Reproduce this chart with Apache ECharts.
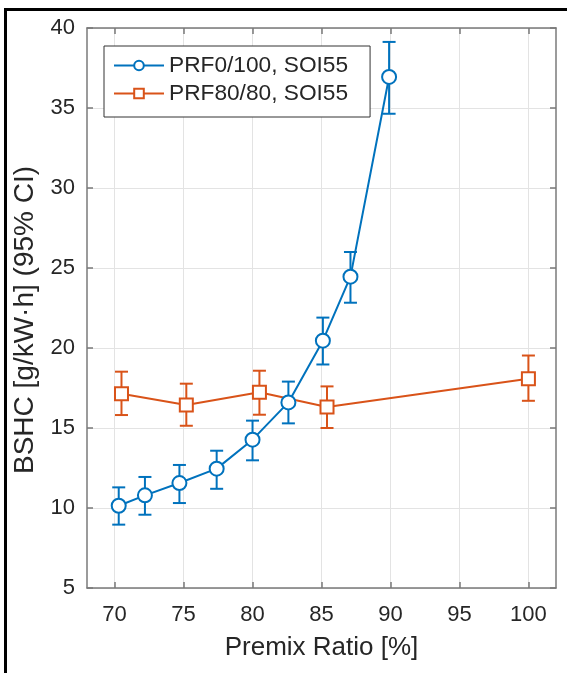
<!DOCTYPE html>
<html>
<head>
<meta charset="utf-8">
<script src="https://cdn.jsdelivr.net/npm/echarts@6/dist/echarts.min.js"></script>
<style>
html,body{margin:0;padding:0;background:#fff;}
#main{width:567px;height:673px;}
</style>
</head>
<body>
<div id="main"></div>
<script>
// ---- data ----
var xTicks = [70, 75, 80, 85, 90, 95, 100];
var yTicks = [5, 10, 15, 20, 25, 30, 35, 40];

var prf0X     = [70.3, 72.2, 74.7, 77.4, 80.0, 82.6, 85.1, 87.1, 89.9];
var prf0Y     = [10.14, 10.79, 11.56, 12.46, 14.27, 16.6, 20.46, 24.46, 36.94];
var prf0Upper = [11.29, 11.94, 12.69, 13.58, 15.46, 17.9, 21.9, 26.0, 39.13];
var prf0Lower = [8.96, 9.58, 10.31, 11.2, 12.98, 15.29, 18.97, 22.83, 34.64];

var prf80X     = [70.5, 75.2, 80.5, 85.4, 100];
var prf80Y     = [17.14, 16.44, 17.23, 16.31, 18.08];
var prf80Upper = [18.52, 17.77, 18.58, 17.6, 19.53];
var prf80Lower = [15.81, 15.14, 15.83, 15.0, 16.7];

var seriesNames = ['PRF0/100, SOI55', 'PRF80/80, SOI55'];
var colors = ['#0072BD', '#D95319'];

function pairs(xs, ys) { return xs.map(function (x, i) { return [x, ys[i]]; }); }
function bars(xs, lo, hi) { return xs.map(function (x, i) { return [x, lo[i], hi[i]]; }); }

function errRender(color) {
  return function (params, api) {
    var x = api.value(0), lo = api.value(1), hi = api.value(2);
    var a = api.coord([x, lo]), b = api.coord([x, hi]);
    var h = 6.5;
    var st = { stroke: color, lineWidth: 2, fill: null };
    return {
      type: 'group',
      children: [
        { type: 'line', shape: { x1: a[0], y1: a[1], x2: b[0], y2: b[1] }, style: st },
        { type: 'line', shape: { x1: a[0] - h, y1: a[1], x2: a[0] + h, y2: a[1] }, style: st },
        { type: 'line', shape: { x1: b[0] - h, y1: b[1], x2: b[0] + h, y2: b[1] }, style: st }
      ]
    };
  };
}

var chart = echarts.init(document.getElementById('main'), null, { renderer: 'canvas' });
var FONT = '"Liberation Sans", Arial, Helvetica, sans-serif';
var axisColor = '#7a7a7a';
var textColor = '#262626';

var option = {
  animation: false,
  backgroundColor: '#fff',
  textStyle: { fontFamily: FONT, color: textColor },
  grid: { left: 87, right: 11, top: 28, bottom: 85, containLabel: false },
  legend: {
    orient: 'vertical',
    left: 104, top: 46,
    data: seriesNames,
    itemWidth: 50, itemHeight: 12, itemGap: 5,
    padding: [8, 22, 12, 9],
    backgroundColor: '#fff',
    borderColor: '#333',
    borderWidth: 1,
    borderRadius: 0,
    textStyle: { fontFamily: FONT, fontSize: 22.7, color: textColor }
  },
  xAxis: [{
    type: 'value', min: 68, max: 102,
    name: 'Premix Ratio [%]', nameLocation: 'middle', nameGap: 47,
    nameTextStyle: { fontFamily: FONT, fontSize: 26, color: textColor },
    axisLine: { show: true, onZero: false, lineStyle: { color: axisColor, width: 1.5 } },
    axisTick: { show: true, inside: true, length: 6, customValues: xTicks, lineStyle: { color: axisColor, width: 1.5 } },
    axisLabel: { customValues: xTicks, fontFamily: FONT, fontSize: 22, color: textColor, margin: 16 },
    splitLine: { show: true, lineStyle: { color: '#e3e3e3', width: 1 } }
  }, {
    type: 'value', min: 68, max: 102, position: 'top',
    axisLine: { show: true, onZero: false, lineStyle: { color: axisColor, width: 1.5 } },
    axisTick: { show: true, inside: true, length: 6, customValues: xTicks, lineStyle: { color: axisColor, width: 1.5 } },
    axisLabel: { show: false },
    splitLine: { show: false }
  }],
  yAxis: [{
    type: 'value', min: 5, max: 40, interval: 5,
    name: 'BSHC [g/kW·h] (95% CI)', nameLocation: 'middle', nameGap: 44,
    nameTextStyle: { fontFamily: FONT, fontSize: 28, color: textColor, padding: [0, 24, 0, 0] },
    axisLine: { show: true, onZero: false, lineStyle: { color: axisColor, width: 1.5 } },
    axisTick: { show: true, inside: true, length: 6, lineStyle: { color: axisColor, width: 1.5 } },
    axisLabel: { fontFamily: FONT, fontSize: 22, color: textColor, margin: 12 },
    splitLine: { show: true, lineStyle: { color: '#e3e3e3', width: 1 } }
  }, {
    type: 'value', min: 5, max: 40, interval: 5, position: 'right',
    axisLine: { show: true, onZero: false, lineStyle: { color: axisColor, width: 1.5 } },
    axisTick: { show: true, inside: true, length: 6, lineStyle: { color: axisColor, width: 1.5 } },
    axisLabel: { show: false },
    splitLine: { show: false }
  }],
  series: [
    {
      name: 'err0', type: 'custom', xAxisIndex: 0, yAxisIndex: 0, z: 2,
      renderItem: errRender(colors[0]), data: bars(prf0X, prf0Lower, prf0Upper),
      encode: { x: 0, y: [1, 2] }
    },
    {
      name: 'err80', type: 'custom', xAxisIndex: 0, yAxisIndex: 0, z: 2,
      renderItem: errRender(colors[1]), data: bars(prf80X, prf80Lower, prf80Upper),
      encode: { x: 0, y: [1, 2] }
    },
    {
      name: seriesNames[0], type: 'line', z: 3,
      data: pairs(prf0X, prf0Y),
      symbol: 'circle', symbolSize: 14,
      lineStyle: { color: colors[0], width: 2 },
      itemStyle: { color: '#fff', borderColor: colors[0], borderWidth: 2 },
      color: colors[0]
    },
    {
      name: seriesNames[1], type: 'line', z: 3,
      data: pairs(prf80X, prf80Y),
      symbol: 'rect', symbolSize: 13,
      lineStyle: { color: colors[1], width: 2 },
      itemStyle: { color: '#fff', borderColor: colors[1], borderWidth: 2 },
      color: colors[1]
    }
  ],
  graphic: [{
    type: 'polyline',
    shape: { points: [[5.5, 673], [5.5, 9.5], [567, 9.5]] },
    style: { stroke: '#000', lineWidth: 3, fill: null },
    z: 100
  }]
};
chart.setOption(option);
</script>
</body>
</html>
